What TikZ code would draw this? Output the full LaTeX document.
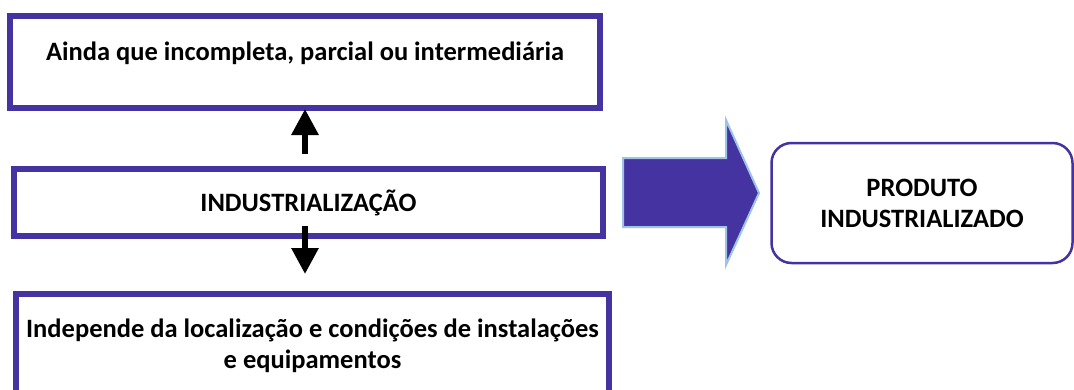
\documentclass[tikz,border=0pt]{standalone}
\usepackage{fontspec}
\setmainfont{Carlito}
\usetikzlibrary{arrows.meta}
\definecolor{boxpurple}{RGB}{68,51,160}
\definecolor{edgeblue}{RGB}{157,195,230}

\begin{document}
\begin{tikzpicture}[x=1pt, y=-1pt,
  box/.style={draw=boxpurple, line width=6pt, inner sep=0pt, align=center,
    font=\fontsize{26.5}{31}\selectfont\bfseries},
  arr/.style={line width=6pt, -{Triangle[width=26pt, length=26pt]}}]
\useasboundingbox (0,0) rectangle (1074,389);

\node[box, minimum width=590, minimum height=92, text height=20pt, text depth=24pt]
  (ainda) at (305,62) {Ainda que incompleta, parcial ou intermediária};
\node[box, minimum width=589, minimum height=67] (indus) at (308.5,202.5) {INDUSTRIALIZAÇÃO};
\node[box, minimum width=593, minimum height=104] (indep) at (312.5,346)
  {Independe da localização e condições de instalações\\e equipamentos};

\draw[arr, shorten <=12pt, shorten >=-2pt] (indus.north -| ainda.south) -- (ainda.south);
\draw[arr, shorten <=-13pt, shorten >=17pt] (indus.south -| ainda.south) -- (indep.north -| ainda.south);

% seta grande
\filldraw[fill=boxpurple, draw=edgeblue, line width=2pt, line join=miter]
  (623,158) -- (726,158) -- (726,120) -- (759,193) -- (726,265) -- (726,227) -- (623,227) -- cycle;

\node[box, line width=2.5pt, rounded corners=20pt, minimum width=301, minimum height=120]
  (produto) at (922,203) {PRODUTO\\INDUSTRIALIZADO};
\end{tikzpicture}
\end{document}
